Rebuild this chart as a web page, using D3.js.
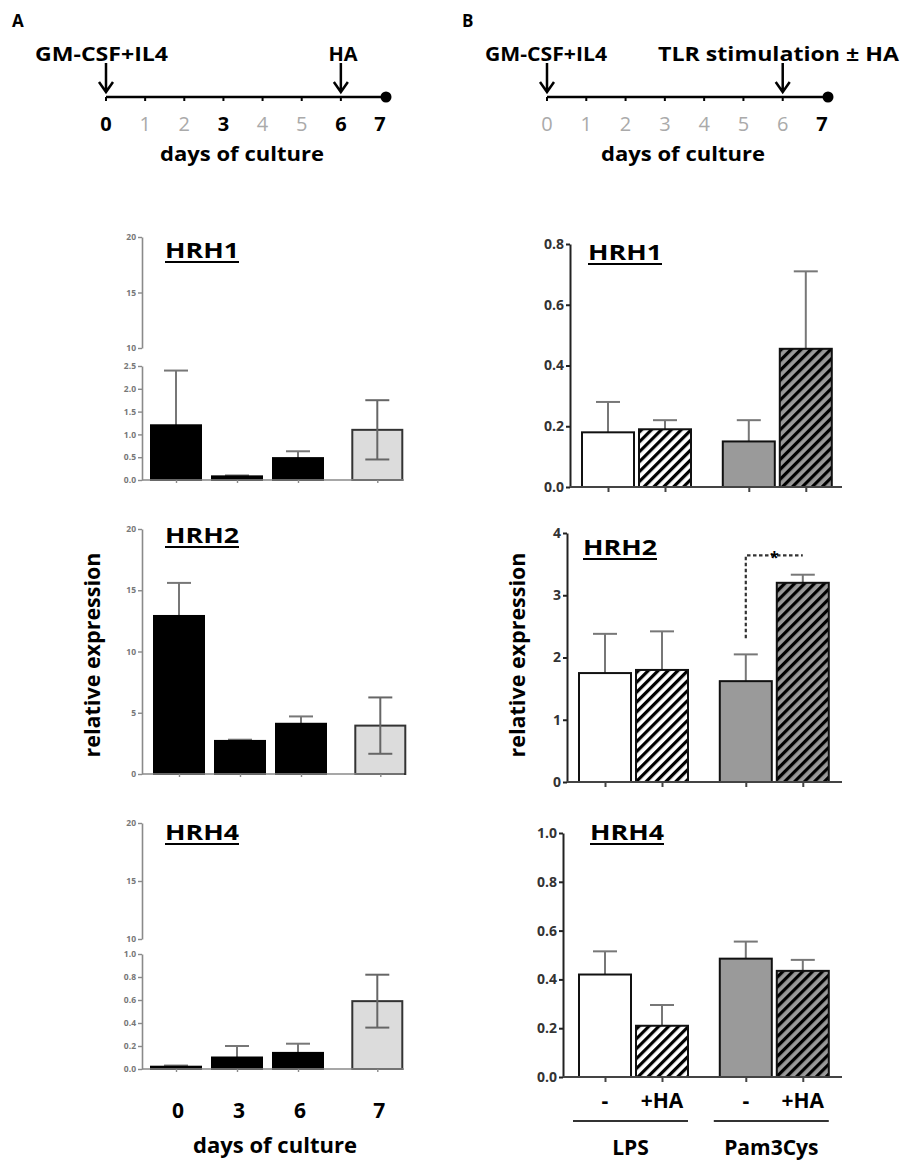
<!DOCTYPE html>
<html>
<head>
<meta charset="utf-8">
<script src="https://cdn.jsdelivr.net/npm/d3@7"></script>
<style>
  body { margin: 0; background: #fff; }
  svg { display: block; font-family: "Open Sans", sans-serif; }
</style>
</head>
<body>
<svg id="chart"></svg>
<script>
const width = 900;
const height = 1161;

// timeline
const timelineDays = [0, 1, 2, 3, 4, 5, 6, 7];
const boldDaysA = [0, 3, 6, 7];
const boldDaysB = [7];

// panel A: days of culture
const daysA = ["0", "3", "6", "7"];
const hrh1A = [1.2, 0.08, 0.48, 1.1];
const hrh1AErr = [1.2, 0.02, 0.15, 0.65];
const hrh2A = [12.9, 2.7, 4.1, 3.95];
const hrh2AErr = [2.7, 0.1, 0.6, 2.3];
const hrh4A = [0.02, 0.1, 0.14, 0.59];
const hrh4AErr = [0.01, 0.1, 0.08, 0.23];

// panel B: TLR stimulation +/- HA
const groupsB = ["LPS", "Pam3Cys"];
const treatB = ["-", "+HA", "-", "+HA"];
const hrh1B = [0.18, 0.19, 0.15, 0.455];
const hrh1BErr = [0.1, 0.03, 0.07, 0.255];
const hrh2B = [1.75, 1.8, 1.62, 3.2];
const hrh2BErr = [0.63, 0.62, 0.43, 0.13];
const hrh4B = [0.42, 0.21, 0.485, 0.435];
const hrh4BErr = [0.095, 0.085, 0.07, 0.045];

const svg = d3.select("#chart")
  .attr("width", width)
  .attr("height", height);

svg.append("rect").attr("width", width).attr("height", height).attr("fill", "#fff");

// hatch patterns
const defs = svg.append("defs");
function hatch(id, bg) {
  const p = defs.append("pattern")
    .attr("id", id)
    .attr("patternUnits", "userSpaceOnUse")
    .attr("width", 7).attr("height", 7)
    .attr("patternTransform", "rotate(45)");
  p.append("rect").attr("width", 7).attr("height", 7).attr("fill", bg);
  p.append("rect").attr("width", 3.2).attr("height", 7).attr("fill", "#000");
}
hatch("hatchW", "#fff");
hatch("hatchG", "#9a9a9a");

// bold text with a fixed width, the source font runs wide
function label(g, x, y, text, size, len, anchor) {
  const t = g.append("text")
    .attr("x", x).attr("y", y)
    .attr("text-anchor", anchor || "start")
    .attr("font-size", size).attr("font-weight", 700)
    .text(text);
  if (len) t.attr("textLength", len).attr("lengthAdjust", "spacingAndGlyphs");
  return t;
}

// panel letters
label(svg, 12, 27, "A", 17);
label(svg, 462, 27, "B", 17);

// ---------- timelines ----------
function arrow(g, x) {
  g.append("path")
    .attr("d", `M${x},63 L${x},92 M${x - 7},82 L${x},92 L${x + 7},82`)
    .attr("fill", "none").attr("stroke", "#000").attr("stroke-width", 2.5);
}

function timeline(range, boldDays, arrows, labels, cultureX) {
  const g = svg.append("g");
  const x = d3.scaleLinear().domain([0, 7]).range(range);
  const ly = 97;
  g.append("line")
    .attr("x1", x(0)).attr("x2", x(7) + 6)
    .attr("y1", ly).attr("y2", ly)
    .attr("stroke", "#000").attr("stroke-width", 2.5);
  g.selectAll(".tk").data(timelineDays.slice(0, 7)).enter().append("line")
    .attr("x1", d => x(d)).attr("x2", d => x(d))
    .attr("y1", ly).attr("y2", ly + 4)
    .attr("stroke", "#000").attr("stroke-width", 2);
  g.append("circle").attr("cx", x(7) + 6).attr("cy", ly).attr("r", 5.5).attr("fill", "#000");
  g.selectAll(".dl").data(timelineDays).enter().append("text")
    .attr("x", d => x(d)).attr("y", 131)
    .attr("text-anchor", "middle")
    .attr("font-size", 20)
    .attr("font-weight", d => boldDays.includes(d) ? 700 : 400)
    .attr("fill", d => boldDays.includes(d) ? "#000" : "#aaa")
    .text(d => d);
  label(g, cultureX, 161, "days of culture", 20, 164, "middle");
  arrows.forEach(d => arrow(g, x(d)));
  labels.forEach(l => label(g, l.x, 61, l.text, 20, l.len, l.anchor));
}

timeline([106, 380], boldDaysA, [0, 6], [
  { text: "GM-CSF+IL4", x: 35, len: 133 },
  { text: "HA", x: 343, anchor: "middle" }
], 242);
timeline([547, 822], boldDaysB, [0, 6], [
  { text: "GM-CSF+IL4", x: 485, len: 122 },
  { text: "TLR stimulation ± HA", x: 658, len: 241 }
], 683);

// ---------- shared helpers ----------
function title(g, x, y, text) {
  label(g, x, y, text, 21, 74);
  g.append("line")
    .attr("x1", x).attr("x2", x + 74)
    .attr("y1", y + 4).attr("y2", y + 4)
    .attr("stroke", "#000").attr("stroke-width", 2);
}

function errorBars(g, data, x, y, both, color) {
  const cap = 12;
  data.forEach(d => {
    const lo = both ? d.v - d.e : d.v;
    g.append("line")
      .attr("x1", x(d)).attr("x2", x(d))
      .attr("y1", y(lo)).attr("y2", y(d.v + d.e))
      .attr("stroke", color).attr("stroke-width", 2);
    g.append("line")
      .attr("x1", x(d) - cap).attr("x2", x(d) + cap)
      .attr("y1", y(d.v + d.e)).attr("y2", y(d.v + d.e))
      .attr("stroke", color).attr("stroke-width", 2);
    if (both) {
      g.append("line")
        .attr("x1", x(d) - cap).attr("x2", x(d) + cap)
        .attr("y1", y(lo)).attr("y2", y(lo))
        .attr("stroke", color).attr("stroke-width", 2);
    }
  });
}

// ---------- panel A ----------
const slotA = i => i + (i === 3 ? 0.3 : 0);

function panelA(cfg) {
  const g = svg.append("g");
  const axisX = 142;
  const x = d3.scaleLinear().domain([0, 1]).range([176 + cfg.dx, 237 + cfg.dx]);
  const bw = 50;
  const segs = cfg.segments.map(s => ({
    scale: d3.scaleLinear().domain(s.domain).range(s.range),
    ticks: s.ticks, fmt: s.fmt
  }));
  const y = segs[0].scale;
  const y0 = y(0);

  segs.forEach(s => {
    const ax = g.append("g")
      .attr("transform", `translate(${axisX},0)`)
      .call(d3.axisLeft(s.scale).tickValues(s.ticks).tickFormat(d3.format(s.fmt)).tickSize(4).tickSizeOuter(0));
    ax.select(".domain").attr("stroke", "#8a8a8a").attr("stroke-width", 1.6);
    ax.selectAll(".tick line").attr("stroke", "#8a8a8a").attr("stroke-width", 1.4);
    ax.selectAll(".tick text")
      .attr("font-family", "Open Sans, sans-serif")
      .attr("font-size", 8.5).attr("font-weight", 700).attr("fill", "#777").attr("x", -6);
  });

  const data = cfg.values.map((v, i) => ({ v, e: cfg.errs[i], i, day: daysA[i] }));
  const cx = d => x(slotA(d.i));

  // error bars of the black bars sit behind them
  errorBars(g, data.filter(d => d.i < 3), cx, y, false, "#777");

  g.selectAll(".bar").data(data).enter().append("rect")
    .attr("x", d => cx(d) - bw / 2)
    .attr("y", d => y(d.v))
    .attr("width", bw)
    .attr("height", d => y0 - y(d.v))
    .attr("fill", d => d.i === 3 ? "#dcdcdc" : "#000")
    .attr("stroke", d => d.i === 3 ? "#333" : "#000")
    .attr("stroke-width", 2);

  errorBars(g, data.filter(d => d.i === 3), cx, y, true, "#666");

  // x axis
  g.append("line")
    .attr("x1", axisX).attr("x2", axisX + 262)
    .attr("y1", y0).attr("y2", y0)
    .attr("stroke", "#8a8a8a").attr("stroke-width", 1.6);
  const xa = g.append("g")
    .attr("transform", `translate(0,${y0})`)
    .call(d3.axisBottom(x).tickValues(daysA.map((d, i) => slotA(i))).tickFormat("").tickSize(3).tickSizeOuter(0));
  xa.select(".domain").remove();
  xa.selectAll(".tick line").attr("stroke", "#8a8a8a").attr("stroke-width", 1.4);

  title(g, 165, cfg.titleY, cfg.title);

  if (cfg.labels) {
    g.selectAll(".xl").data(daysA).enter().append("text")
      .attr("x", (d, i) => x(slotA(i)) + 2).attr("y", 1118)
      .attr("text-anchor", "middle").attr("font-size", 21).attr("font-weight", 700)
      .text(d => d);
    label(g, 275, 1153, "days of culture", 21, 164, "middle");
  }
}

panelA({
  title: "HRH1", titleY: 258, dx: 0,
  values: hrh1A, errs: hrh1AErr,
  segments: [
    { domain: [0, 2.5], range: [480, 366], ticks: [0, 0.5, 1, 1.5, 2, 2.5], fmt: ".1f" },
    { domain: [10, 20], range: [348, 237], ticks: [10, 15, 20], fmt: "d" }
  ]
});
panelA({
  title: "HRH2", titleY: 543, dx: 3,
  values: hrh2A, errs: hrh2AErr,
  segments: [
    { domain: [0, 20], range: [774, 529], ticks: [0, 5, 10, 15, 20], fmt: "d" }
  ]
});
panelA({
  title: "HRH4", titleY: 840, dx: 0, labels: true,
  values: hrh4A, errs: hrh4AErr,
  segments: [
    { domain: [0, 1], range: [1069, 954], ticks: [0, 0.2, 0.4, 0.6, 0.8, 1.0], fmt: ".1f" },
    { domain: [10, 20], range: [939, 823], ticks: [10, 15, 20], fmt: "d" }
  ]
});

label(svg, 0, 0, "relative expression", 21, 205, "middle")
  .attr("transform", "translate(100,655) rotate(-90)");

// ---------- panel B ----------
const slotB = i => i + (i >= 2 ? 0.47 : 0);
const fillsB = ["#fff", "url(#hatchW)", "#9a9a9a", "url(#hatchG)"];

function panelB(cfg) {
  const g = svg.append("g");
  const x = d3.scaleLinear().domain([0, 1]).range([cfg.x0, cfg.x0 + 57]);
  const bw = 52;
  const y = d3.scaleLinear().domain(cfg.domain).range(cfg.range);
  const y0 = y(0);

  const data = cfg.values.map((v, i) => ({ v, e: cfg.errs[i], i }));
  const cx = d => x(slotB(d.i));

  errorBars(g, data, cx, y, false, "#777");

  g.selectAll(".bar").data(data).enter().append("rect")
    .attr("x", d => cx(d) - bw / 2)
    .attr("y", d => y(d.v))
    .attr("width", bw)
    .attr("height", d => y0 - y(d.v))
    .attr("fill", d => fillsB[d.i])
    .attr("stroke", "#111")
    .attr("stroke-width", 2);

  const ax = g.append("g")
    .attr("transform", `translate(${cfg.axisX},0)`)
    .call(d3.axisLeft(y).tickValues(cfg.ticks).tickFormat(d3.format(cfg.fmt)).tickSize(4).tickSizeOuter(0));
  ax.select(".domain").attr("stroke", "#222").attr("stroke-width", 2);
  ax.selectAll(".tick line").attr("stroke", "#222").attr("stroke-width", 2);
  ax.selectAll(".tick text")
    .attr("font-family", "Open Sans, sans-serif")
    .attr("font-size", 14).attr("font-weight", 700).attr("fill", "#333").attr("x", -6);

  g.append("line")
    .attr("x1", cfg.axisX).attr("x2", 842)
    .attr("y1", y0).attr("y2", y0)
    .attr("stroke", "#444").attr("stroke-width", 2);
  const xa = g.append("g")
    .attr("transform", `translate(0,${y0})`)
    .call(d3.axisBottom(x).tickValues(treatB.map((d, i) => slotB(i))).tickFormat("").tickSize(5).tickSizeOuter(0));
  xa.select(".domain").remove();
  xa.selectAll(".tick line").attr("stroke", "#444").attr("stroke-width", 2);

  title(g, cfg.titleX, cfg.titleY, cfg.title);

  if (cfg.sig) {
    const xa1 = x(slotB(2)), xb1 = x(slotB(3));
    g.append("path")
      .attr("d", `M${xa1},${y(cfg.sig[0])} L${xa1},${y(cfg.sig[1])} L${xb1},${y(cfg.sig[1])}`)
      .attr("fill", "none").attr("stroke", "#333").attr("stroke-width", 2.2)
      .attr("stroke-dasharray", "3.5,2.5");
    g.append("text")
      .attr("x", (xa1 + xb1) / 2).attr("y", y(cfg.sig[1]) + 8)
      .attr("text-anchor", "middle").attr("font-size", 16).attr("font-weight", 700)
      .text("*");
  }

  if (cfg.labels) {
    g.selectAll(".tl").data(treatB).enter().append("text")
      .attr("x", (d, i) => x(slotB(i))).attr("y", 1108)
      .attr("text-anchor", "middle").attr("font-size", 21).attr("font-weight", 700)
      .text(d => d);
    groupsB.forEach((name, k) => {
      const left = x(slotB(2 * k)) - bw / 2 - 6;
      const right = x(slotB(2 * k + 1)) + bw / 2;
      g.append("line")
        .attr("x1", left).attr("x2", right)
        .attr("y1", 1121).attr("y2", 1121)
        .attr("stroke", "#333").attr("stroke-width", 2);
      label(g, (left + right) / 2, 1155, name, 21, null, "middle");
    });
  }
}

panelB({
  title: "HRH1", titleX: 588, titleY: 260, axisX: 570, x0: 608,
  values: hrh1B, errs: hrh1BErr,
  domain: [0, 0.8], range: [487, 244], ticks: [0, 0.2, 0.4, 0.6, 0.8], fmt: ".1f"
});
panelB({
  title: "HRH2", titleX: 583, titleY: 555, axisX: 567, x0: 605,
  values: hrh2B, errs: hrh2BErr,
  domain: [0, 4], range: [782, 533], ticks: [0, 1, 2, 3, 4], fmt: "d",
  sig: [2.31, 3.64]
});
panelB({
  title: "HRH4", titleX: 590, titleY: 840, axisX: 563, x0: 605, labels: true,
  values: hrh4B, errs: hrh4BErr,
  domain: [0, 1], range: [1077, 833], ticks: [0, 0.2, 0.4, 0.6, 0.8, 1.0], fmt: ".1f"
});

label(svg, 0, 0, "relative expression", 21, 205, "middle")
  .attr("transform", "translate(525,655) rotate(-90)");
</script>
</body>
</html>
